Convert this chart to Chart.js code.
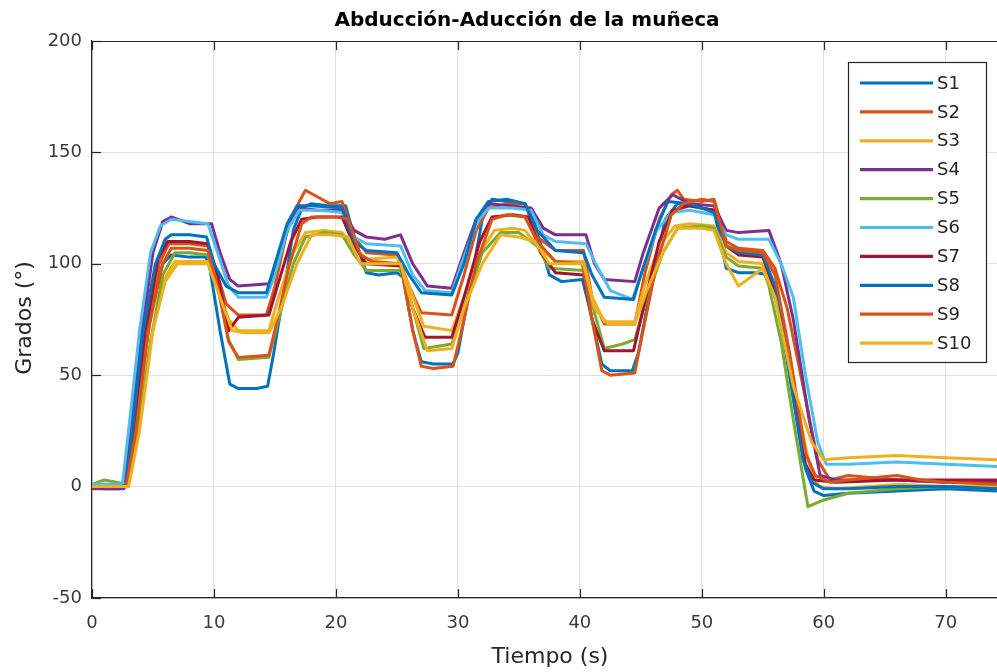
<!DOCTYPE html>
<html>
<head>
<meta charset="utf-8">
<script src="https://cdn.jsdelivr.net/npm/chart.js@4/dist/chart.umd.min.js"></script>
<style>
  html, body { margin: 0; padding: 0; background: #fff; }
  #wrap { width: 997px; height: 672px; overflow: hidden; }
</style>
</head>
<body>
<div id="wrap"><canvas id="c" width="997" height="672"></canvas></div>
<script>
// ---- Data ----
const chartTitle = 'Abducción-Aducción de la muñeca';
const xLabel = 'Tiempo (s)';
const yLabel = 'Grados (°)';
const seriesNames = ['S1','S2','S3','S4','S5','S6','S7','S8','S9','S10'];
const seriesColors = ['#0072BD','#D95319','#EDB120','#7E2F8E','#77AC30','#4DBEEE','#A2142F','#0072BD','#D95319','#EDB120'];
const xTicks = [0,10,20,30,40,50,60,70];
const yTicks = [-50,0,50,100,150,200];

const s1T = [0,1,2.2,2.9,3.5,4.2,5,5.8,6.5,8,9.3,9.6,10.5,11.3,12,13.5,14.4,14.9,15.8,16.5,17.2,18,19.5,20.8,21.5,22.5,23.5,25,25.5,26.3,27,28,29.6,30,31,32,32.8,34,35.5,36.3,37.5,38.5,40.2,40.8,41.8,42.5,44.3,44.8,46,47,48,50,51,52,53,54.5,55.5,56.5,57.5,58.5,59.2,60,62,66,70,74.2];
const s1Y = [0,-1,-1,0,20,55,85,100,104,103,103,100,70,46,44,44,45,60,90,115,125,127,126,126,112,96,95,96,94,70,56,55,55,60,90,120,129,128,127,118,95,92,93,80,55,52,52,60,95,120,127,125,124,98,96,96,95,75,40,8,-2,-4,-3,-2,-1,-2];

const s2T = [0,2.8,3.5,4.5,5.5,6.3,8,9.5,10.3,11,12,14.3,15,16,17,17.5,18.5,19.5,20.5,21.5,22.5,25,26,27,29.5,30.5,31.5,32.5,34,35.5,36.5,38,40.3,41,42,44.5,45.3,46.5,47.5,48,48.5,50,51,52,53,55,56,57,58.3,59.5,60.5,62,66,70,74.2];
const s2Y = [0,1,20,65,100,109,109,108,95,82,77,77,90,115,128,133,130,127,128,112,105,104,90,78,77,95,115,125,127,127,112,106,106,85,73,73,95,120,131,133,129,128,129,110,107,106,98,80,45,12,3,5,3,2,2];

const s3T = [0,2.9,3.8,4.8,5.8,6.8,8,9.5,10.3,11.2,12,14.5,15.3,16.5,17.5,19,20.5,21.5,22.5,25,26,27.2,29.5,30.5,31.8,33,34.5,35.5,36.5,38,40.3,41,42,44.5,45.3,46.5,47.8,49,51,52,53,55,56,57.5,58.8,59.6,61,66,70,74.2];
const s3Y = [1,1,25,65,92,101,101,101,90,75,70,70,85,105,114,115,114,108,102,103,90,72,70,85,105,115,116,115,108,101,101,85,74,74,90,108,117,118,117,105,101,100,85,45,10,0,-1,1,0,0];

const s4T = [0,2.6,3.3,4.1,5,5.8,6.5,8,9.8,10.5,11.3,12,14.5,15.2,16.2,17,18.5,20.5,21.5,22.5,24,25.3,26.3,27.5,29.5,30.5,31.5,32.5,34.5,36,37,38,40.5,41.2,42,44.5,45.2,46.5,47.6,49,51,52,53,55.5,56.5,57.5,58.8,59.7,61,66,70,74.2];
const s4Y = [-1,-1,30,70,105,119,121,118,118,105,93,90,91,100,118,125,124,124,115,112,111,113,100,90,89,105,120,127,126,125,116,113,113,100,93,92,105,125,131,127,126,115,114,115,100,75,30,5,3,3,2,2];

const s5T = [0,1,2,2.9,3.8,4.8,5.8,6.8,8,9.5,10.3,11.2,12,14.5,15.3,16.5,17.5,19,20.5,21.5,22.5,25.3,26.3,27.2,29.5,30.5,32,33.5,35,36.5,37.5,40.3,41.1,42,43.5,44.5,45.5,46.8,48,50,51,52,53,55,55.5,56.5,57.5,58.7,60,62,66,70,74.2];
const s5Y = [1,3,2,1,25,65,95,105,105,104,90,66,57,58,75,100,112,114,113,104,97,97,80,62,64,80,105,114,114,108,98,97,80,62,64,66,85,105,116,117,116,103,99,98,90,65,30,-9,-6,-3,-1,0,-1];

const s6T = [0,2.5,3.1,3.9,4.8,5.6,6.5,8,9.5,10.3,11.2,12,14.3,15,16,17,18.5,20.5,21.5,22.5,25.3,26.3,27.3,29.5,30.3,31.5,32.5,34.5,36,37,38,40.5,41.3,42.5,44.3,45,46.3,47.5,49,51,52,53,55.5,56.5,57.5,58.5,59.5,60.2,62,66,70,74.2];
const s6Y = [1,1,30,70,105,117,120,119,118,105,90,85,85,95,115,124,124,123,112,109,108,95,88,87,100,118,125,125,124,113,110,109,100,88,84,95,115,123,124,122,113,111,111,100,85,50,20,10,10,11,10,9];

const s7T = [0,2.8,3.5,4.4,5.4,6.2,8,9.5,10.3,11.2,12,14.5,15.2,16.3,17.2,18.5,20.5,21.5,22.5,25.3,26.3,27.3,29.5,30.5,31.8,32.8,34.5,35.8,36.8,38,40.3,41,42,44.4,45.2,46.5,47.6,49,51,52,53,55,56,57.3,58.5,59.2,61,66,70,74.2];
const s7Y = [0,0,30,70,102,110,110,109,95,70,76,77,90,110,120,121,121,108,100,99,80,67,67,85,110,121,122,121,105,96,95,75,61,61,80,110,124,126,124,108,104,103,88,50,10,3,2,3,3,3];

const s8T = [0,2.5,2.8,3.4,4.2,5.2,6,6.5,8,9.4,10,11,12,13.5,14.3,15,16,16.8,18,20.5,21.5,22.5,25,26,27,29.5,30.5,31.5,32.5,34,35.5,36.5,38,40.3,41,42,44.4,45,46.2,47.2,49,51,52,53,55,56,57.2,58.3,59,60,62,66,70,74.2];
const s8Y = [0,0,1,30,70,100,111,113,113,112,100,90,87,87,87,100,118,126,126,125,110,106,105,95,87,86,100,120,128,129,127,115,106,105,95,85,84,95,115,128,127,123,108,105,104,90,50,12,2,-1,-1,0,0,-1];

const s9T = [0,2.8,3.6,4.6,5.8,6.5,8,9.5,10.3,11.2,12,14.5,15.2,16.2,17.2,18,20,21,22,23,25.3,26.3,27,28,29.6,30.3,31.5,32.8,34,35.5,36.5,38,40.2,41,41.8,42.5,44.5,45,46.3,47.5,48.5,50,51,52,53,55,56,57.2,58.5,59.3,60.5,62,66,68,70,74.2];
const s9Y = [0,0,25,70,100,107,107,106,90,65,58,59,75,100,118,121,121,120,104,101,100,70,54,53,54,70,100,120,122,121,110,101,100,75,52,50,51,65,100,122,127,129,128,108,106,105,95,60,15,5,2,3,5,3,2,1];

const s10T = [0,3,3.9,5,6,7,8.5,9.5,10.5,11.5,12.5,14.5,15.5,16.8,18,19.5,21,22,23,25.3,26.3,27.5,29.5,30.5,32,33.5,35,36.3,37.5,40.3,41.2,42.3,44.5,45.5,46.8,48,50,51,52,53,54,55,56,57.5,59,60,62,66,70,74.2];
const s10Y = [0,0,25,70,92,100,100,100,85,70,69,69,80,100,113,113,112,100,100,100,80,61,62,80,100,113,112,110,100,100,80,73,73,88,105,116,116,115,100,90,94,98,85,45,20,12,13,14,13,12];

const seriesT = [s1T,s2T,s3T,s4T,s5T,s6T,s7T,s8T,s9T,s10T];
const seriesY = [s1Y,s2Y,s3Y,s4Y,s5Y,s6Y,s7Y,s8Y,s9Y,s10Y];

// ---- Styling ----
const FONT = '"DejaVu Sans", sans-serif';
const AXIS_COLOR = '#262626';
const GRID_COLOR = '#e0e0e0';
const TICK_COLOR = '#3a3a3a';

const datasets = seriesNames.map((name, i) => ({
  label: name,
  data: seriesT[i].map((t, k) => ({ x: t, y: seriesY[i][k] })),
  borderColor: seriesColors[i],
  backgroundColor: seriesColors[i],
  borderWidth: 3,
  pointRadius: 0,
  tension: 0,
  fill: false,
  borderJoinStyle: 'round',
  borderCapStyle: 'round',
  order: seriesNames.length - i
}));

const decor = {
  id: 'decor',
  beforeDatasetsDraw(chart) {
    const { ctx, chartArea: a, scales } = chart;
    ctx.save();
    ctx.strokeStyle = AXIS_COLOR;
    ctx.lineWidth = 1.2;
    ctx.beginPath(); ctx.moveTo(a.left, a.top + 0.5); ctx.lineTo(a.right, a.top + 0.5); ctx.stroke();
    const tl = 9;
    xTicks.forEach(v => {
      const x = Math.round(scales.x.getPixelForValue(v)) + 0.5;
      ctx.beginPath(); ctx.moveTo(x, a.bottom); ctx.lineTo(x, a.bottom - tl); ctx.stroke();
      ctx.beginPath(); ctx.moveTo(x, a.top); ctx.lineTo(x, a.top + tl); ctx.stroke();
    });
    yTicks.forEach(v => {
      const y = Math.round(scales.y.getPixelForValue(v)) + 0.5;
      ctx.beginPath(); ctx.moveTo(a.left, y); ctx.lineTo(a.left + tl, y); ctx.stroke();
    });
    ctx.restore();
  },
  afterDraw(chart) {
    const { ctx } = chart;
    ctx.save();
    ctx.fillStyle = '#000';
    ctx.font = 'bold 20px ' + FONT;
    ctx.textAlign = 'center';
    ctx.textBaseline = 'middle';
    ctx.fillText(chartTitle, 527, 21);
    ctx.fillStyle = '#262626';
    ctx.font = '22px ' + FONT;
    ctx.fillText(xLabel, 550, 657);
    ctx.save();
    ctx.translate(25, 318);
    ctx.rotate(-Math.PI / 2);
    ctx.fillText(yLabel, 0, 0);
    ctx.restore();
    const lx = 848, ly = 62, lw = 138, lh = 300;
    ctx.fillStyle = '#fff';
    ctx.fillRect(lx, ly, lw, lh);
    ctx.strokeStyle = '#262626';
    ctx.lineWidth = 1.2;
    ctx.strokeRect(lx + 0.5, ly + 0.5, lw, lh);
    ctx.font = '18px ' + FONT;
    ctx.textAlign = 'left';
    ctx.textBaseline = 'middle';
    chart.data.datasets.forEach((ds, i) => {
      const y = 83 + i * 28.9;
      ctx.strokeStyle = ds.borderColor;
      ctx.lineWidth = 3.2;
      ctx.beginPath(); ctx.moveTo(860, y); ctx.lineTo(933, y); ctx.stroke();
      ctx.fillStyle = '#262626';
      ctx.fillText(ds.label, 937, y + 1);
    });
    ctx.restore();
  }
};

new Chart(document.getElementById('c'), {
  type: 'line',
  data: { datasets },
  options: {
    responsive: false,
    devicePixelRatio: 1,
    animation: false,
    events: [],
    layout: { padding: { top: 41, left: 0, right: 0, bottom: 0 } },
    plugins: { legend: { display: false }, title: { display: false }, tooltip: { enabled: false } },
    scales: {
      x: {
        type: 'linear',
        min: 0,
        max: 74.2,
        afterFit: s => { s.height = 74; },
        afterBuildTicks: s => { s.ticks = xTicks.map(v => ({ value: v })); },
        ticks: { includeBounds: false, stepSize: 10, padding: 15, color: TICK_COLOR, font: { family: FONT, size: 18 } },
        grid: { color: GRID_COLOR, lineWidth: 1, drawTicks: false },
        border: { display: true, color: AXIS_COLOR, width: 1.2 }
      },
      y: {
        type: 'linear',
        min: -50,
        max: 200,
        afterFit: s => { s.width = 92; },
        afterBuildTicks: s => { s.ticks = yTicks.map(v => ({ value: v })); },
        ticks: { stepSize: 50, padding: 10, color: TICK_COLOR, font: { family: FONT, size: 18 } },
        grid: { color: GRID_COLOR, lineWidth: 1, drawTicks: false },
        border: { display: true, color: AXIS_COLOR, width: 1.2 }
      }
    }
  },
  plugins: [decor]
});
</script>
</body>
</html>
